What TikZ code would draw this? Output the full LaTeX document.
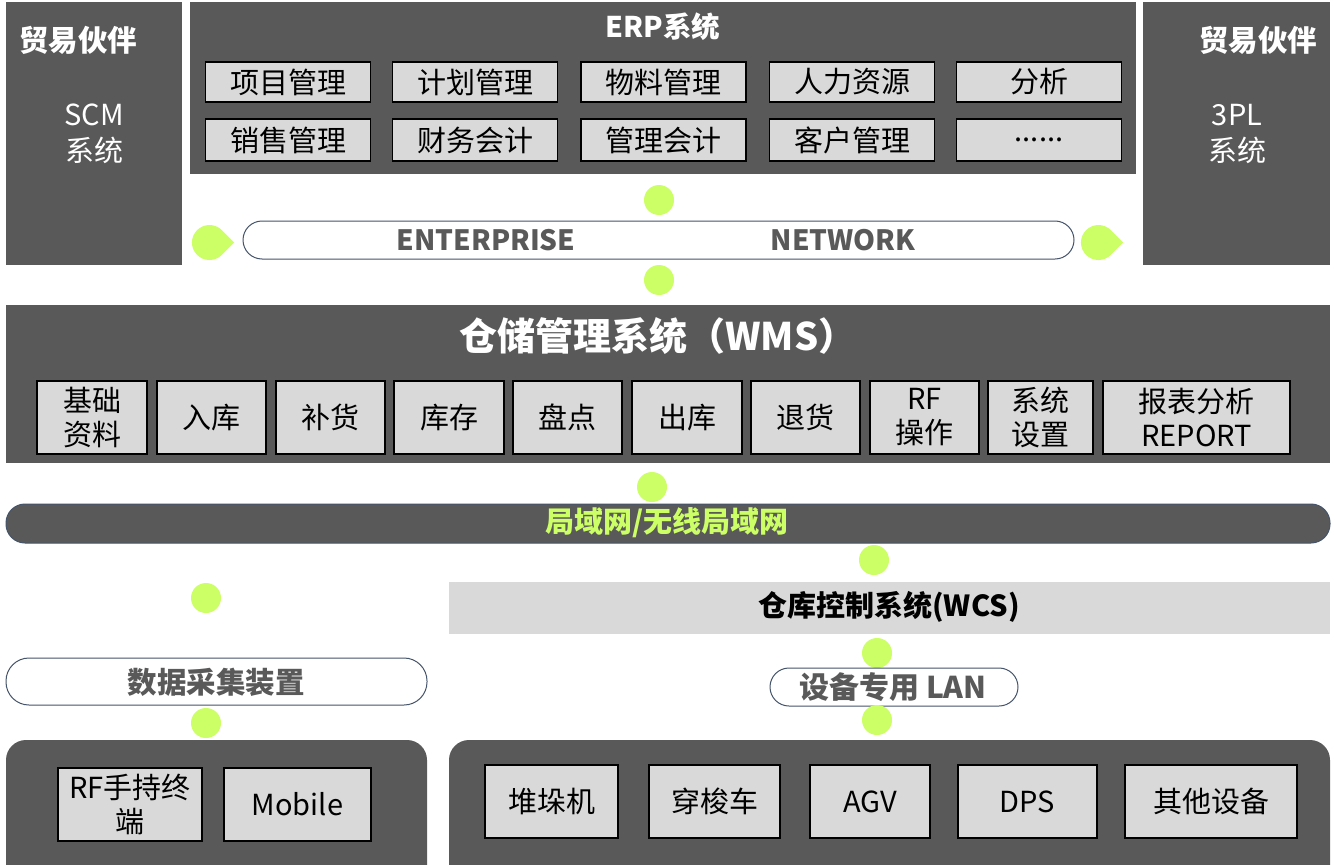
\documentclass[tikz,border=0pt]{standalone}
\usepackage{fontspec}
\setmainfont{Noto Sans CJK SC}
\usetikzlibrary{positioning}
\definecolor{panelgray}{HTML}{595959}
\definecolor{cellgray}{HTML}{D9D9D9}
\definecolor{lime}{HTML}{CCFF66}
\definecolor{rim}{HTML}{44546A}

\tikzset{
  panel/.style={fill=panelgray, inner sep=0pt},
  cell/.style={draw=black, line width=1.2pt, fill=cellgray, inner sep=0pt, align=center,
    font=\fontsize{29}{34}\selectfont},
  dot/.style={circle, fill=lime, minimum size=30pt, inner sep=0pt},
  pill/.style={draw=rim, line width=1pt, fill=white, rounded corners=19pt, inner sep=0pt},
  whitetext/.style={text=white, align=center, font=\fontsize{29}{36}\selectfont},
  headtext/.style={text=white, font=\bfseries\fontsize{29.5}{34}\selectfont},
  graytext/.style={text=panelgray, font=\bfseries\fontsize{29.5}{34}\selectfont},
}

\begin{document}
\begin{tikzpicture}[x=1pt, y=-1pt]
  \clip (0,0) rectangle (1337,864);
  \fill[white] (0,0) rectangle (1337,864);

  % partners and ERP
  \node[panel, minimum width=176pt, minimum height=263pt] (scm) at (94,133.5) {};
  \node[panel, minimum width=187pt, minimum height=263pt] (tpl) at (1236.5,133.5) {};
  \node[panel, minimum width=946pt, minimum height=172pt] (erp) at (663,88) {};
  \node[headtext] (scmhead) at (78,40) {贸易伙伴};
  \node[headtext] (tplhead) at (1258,40) {贸易伙伴};
  \node[whitetext] (scmtext) at (94,134) {SCM\\系统};
  \node[whitetext] (tpltext) at (1237,134) {3PL\\系统};
  \node[headtext, font=\bfseries\fontsize{28.5}{32}\selectfont] (erphead) at (663,27) {ERP系统};

  \foreach \x/\t [count=\i] in {288/项目管理, 475/计划管理, 663.5/物料管理, 852/人力资源, 1039/分析}
    \node[cell, minimum width=165pt, minimum height=40pt] (erpa\i) at (\x,82) {\t};
  \foreach \x/\t [count=\i] in {288/销售管理, 475/财务会计, 663.5/管理会计, 852/客户管理, 1039/{......}}
    \node[cell, minimum width=165pt, minimum height=42pt] (erpb\i) at (\x,140) {\t};

  % enterprise network
  \node[dot] (d1) at (659,200) {};
  \node[pill, minimum width=831pt, minimum height=38pt] (ent) at (658.5,240) {};
  \node[graytext, font=\bfseries\fontsize{28}{34}\selectfont] (enta) at (486,240) {ENTERPRISE};
  \node[graytext, font=\bfseries\fontsize{28}{34}\selectfont] (entb) at (843,240) {NETWORK};
  \node[dot] (d2) at (659,280) {};
  \foreach \c in {(209.5,242.5), (1098.5,242.5)}
    \fill[lime] \c ++(24.7,0) -- ++(-12.37,-12.37) arc[start angle=45, end angle=315, radius=17.5pt] -- cycle;

  % WMS
  \node[panel, minimum width=1324pt, minimum height=158pt] (wms) at (668,384) {};
  \node[headtext, font=\bfseries\fontsize{38}{44}\selectfont] (wmshead) at (658,336) {仓储管理系统（WMS）};
  \foreach \x/\w/\t [count=\i] in {92/110/基础\\资料, 211.5/109/入库, 330.5/109/补货, 449/110/库存,
      567.5/109/盘点, 687/110/出库, 805.5/109/退货, 924.5/109/RF\\操作, 1040.5/105/系统\\设置,
      1196.5/187/报表分析\\REPORT}
    \node[cell, minimum width=\w pt, minimum height=73pt] (wms\i) at (\x,417.5) {\t};

  % LAN
  \node[dot] (d3) at (652,487) {};
  \node[pill, fill=panelgray, minimum width=1324pt, minimum height=39pt] (lan) at (668,523.5) {};
  \node[text=lime, font=\bfseries\fontsize{29}{34}\selectfont] (lantext) at (667,523) {局域网/无线局域网};
  \node[dot] (d4) at (874,560) {};

  % WCS
  \node[fill=cellgray, minimum width=881pt, minimum height=52pt, inner sep=0pt] (wcs) at (889.5,608) {};
  \node[font=\bfseries\fontsize{29}{34}\selectfont] (wcstext) at (889,607) {仓库控制系统(WCS)};
  \node[dot] (d5) at (877,653) {};
  \node[pill, minimum width=248pt, minimum height=38pt] (devlan) at (894,687) {};
  \node[graytext, font=\bfseries\fontsize{30}{34}\selectfont] (devtext) at (893,687) {设备专用 LAN};
  \node[dot] (d6) at (877,720) {};

  % data collection
  \node[dot] (d7) at (206,598) {};
  \node[pill, rounded corners=23pt, minimum width=421pt, minimum height=47pt] (collect) at (216.5,681.5) {};
  \node[graytext] (collecttext) at (216,682) {数据采集装置};
  \node[dot] (d8) at (206,723) {};

  % bottom panels
  \fill[panelgray, rounded corners=20pt] (6,900) rectangle (427,740);
  \fill[panelgray, rounded corners=20pt] (449,900) rectangle (1330,740);
  \node[cell, minimum width=144pt, minimum height=73pt] (rf) at (130,804.5) {RF手持终\\端};
  \node[cell, minimum width=147pt, minimum height=73pt] (mobile) at (297.5,804.5) {Mobile};
  \foreach \x/\w/\t [count=\i] in {551.5/133/堆垛机, 714.5/131/穿梭车, 870/120/AGV, 1027.5/139/DPS, 1211/172/其他设备}
    \node[cell, minimum width=\w pt, minimum height=73pt] (dev\i) at (\x,801.5) {\t};
\end{tikzpicture}
\end{document}
